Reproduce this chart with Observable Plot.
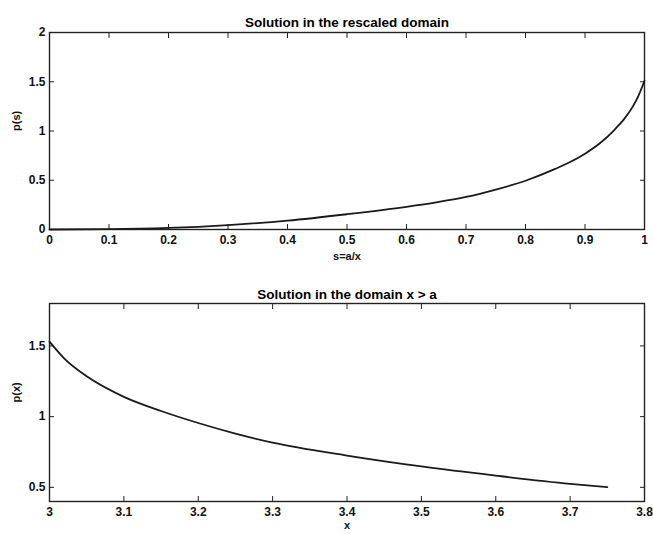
<!DOCTYPE html>
<html><head><meta charset="utf-8">
<script src="https://cdn.jsdelivr.net/npm/d3@7"></script>
<script src="https://cdn.jsdelivr.net/npm/@observablehq/plot@0.6"></script>
<style>
body{margin:0;background:#fff;}
#chart svg{display:block;}
</style></head><body><div id="chart"></div>
<script>
// Top panel: p(s) in the rescaled domain
const topS = [0, 0.1, 0.2, 0.3, 0.4, 0.5, 0.6, 0.65, 0.7, 0.75, 0.8, 0.85, 0.875, 0.9, 0.925, 0.95, 0.965, 0.98, 0.99, 1.0];
const topP = [0, 0.003, 0.016, 0.045, 0.09, 0.155, 0.23, 0.275, 0.33, 0.405, 0.495, 0.615, 0.685, 0.77, 0.875, 1.015, 1.115, 1.245, 1.36, 1.51];
// Bottom panel: p(x) in the domain x > a
const botX = [3.0, 3.02, 3.05, 3.1, 3.15, 3.2, 3.25, 3.3, 3.4, 3.5, 3.6, 3.7, 3.75];
const botP = [1.53, 1.41, 1.285, 1.14, 1.04, 0.955, 0.88, 0.816, 0.725, 0.648, 0.583, 0.525, 0.502];

const topXTicks = [0, 0.1, 0.2, 0.3, 0.4, 0.5, 0.6, 0.7, 0.8, 0.9, 1];
const topYTicks = [0, 0.5, 1, 1.5, 2];
const botXTicks = [3, 3.1, 3.2, 3.3, 3.4, 3.5, 3.6, 3.7, 3.8];
const botYTicks = [0.5, 1, 1.5];
const topXDomain = [0, 1];
const topYDomain = [0, 2];
const botXDomain = [3, 3.8];
const botYDomain = [0.4, 1.8];

const titles = ["Solution in the rescaled domain", "Solution in the domain x > a"];
const xLabels = ["s=a/x", "x"];
const yLabels = ["p(s)", "p(x)"];

const FONT = "'Liberation Sans', Arial, Helvetica, sans-serif";
const fmt = d => `${d}`;

function panel({xs, ys, xDomain, yDomain, xTicks, yTicks, title, xLabel, yLabel, marginTop, marginBottom, titleDy, xLabelDy}) {
  const data = xs.map((x, i) => ({x, y: ys[i]}));
  return Plot.plot({
    width: 653,
    height: 267,
    marginLeft: 49,
    marginRight: 9,
    marginTop,
    marginBottom,
    style: {fontFamily: FONT, fontSize: "12px", fontWeight: "bold", color: "#111", background: "#fff", overflow: "visible"},
    x: {domain: xDomain, label: null},
    y: {domain: yDomain, label: null},
    marks: [
      Plot.axisX(xTicks, {anchor: "bottom", tickSize: -5, tickPadding: 11, tickFormat: fmt, label: null, stroke: "#222"}),
      Plot.axisX(xTicks, {anchor: "top", tickSize: -5, tickFormat: () => "", label: null, stroke: "#222"}),
      Plot.axisY(yTicks, {anchor: "left", tickSize: -5, tickPadding: 9, tickFormat: fmt, label: null, stroke: "#222"}),
      Plot.axisY(yTicks, {anchor: "right", tickSize: -5, tickFormat: () => "", label: null, stroke: "#222"}),
      Plot.frame({stroke: "#222", strokeWidth: 1.4}),
      Plot.line(data, {x: "x", y: "y", stroke: "#1a1a1a", strokeWidth: 1.8, curve: "monotone-x"}),
      Plot.text([title], {frameAnchor: "top", dy: titleDy, fontSize: 13.5, fontWeight: "bold", fill: "#000"}),
      Plot.text([xLabel], {frameAnchor: "bottom", dy: xLabelDy, fontSize: 11, fontWeight: "bold", fill: "#111"}),
      Plot.text([yLabel], {frameAnchor: "left", dx: -33, rotate: -90, fontSize: 11, fontWeight: "bold", fill: "#111"})
    ]
  });
}

const chart = document.getElementById("chart");
chart.append(panel({
  xs: topS, ys: topP, xDomain: topXDomain, yDomain: topYDomain,
  xTicks: topXTicks, yTicks: topYTicks,
  title: titles[0], xLabel: xLabels[0], yLabel: yLabels[0],
  marginTop: 32, marginBottom: 38, titleDy: -15, xLabelDy: 30
}));
chart.append(panel({
  xs: botX, ys: botP, xDomain: botXDomain, yDomain: botYDomain,
  xTicks: botXTicks, yTicks: botYTicks,
  title: titles[1], xLabel: xLabels[1], yLabel: yLabels[1],
  marginTop: 36, marginBottom: 33, titleDy: -14, xLabelDy: 27
}));
</script></body></html>
